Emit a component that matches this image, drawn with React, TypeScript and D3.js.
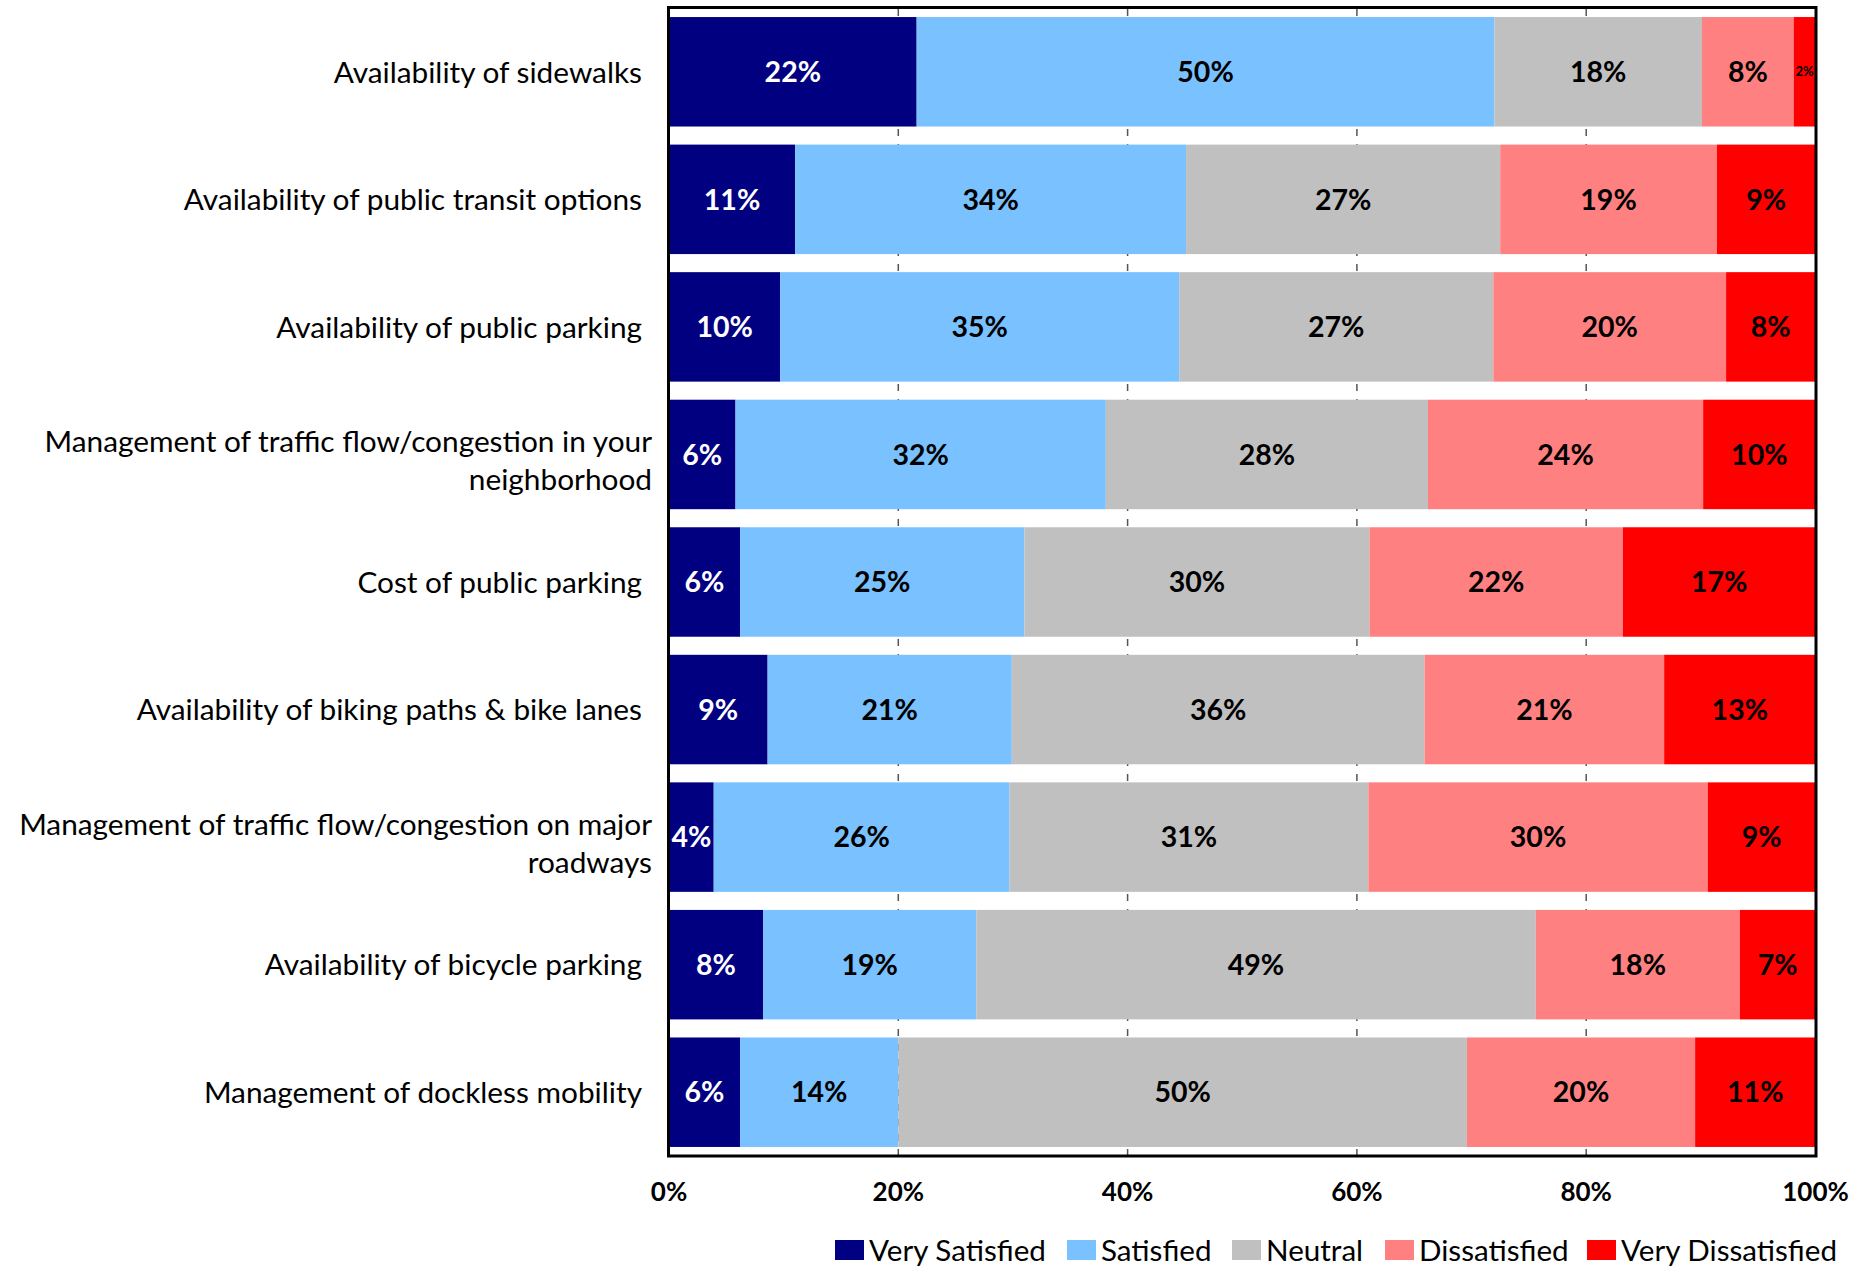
import React from "react";
import * as d3 from "d3";

const categories: string[][] = [
  ["Availability of sidewalks"],
  ["Availability of public transit options"],
  ["Availability of public parking"],
  ["Management of traffic flow/congestion in your", "neighborhood"],
  ["Cost of public parking"],
  ["Availability of biking paths & bike lanes"],
  ["Management of traffic flow/congestion on major", "roadways"],
  ["Availability of bicycle parking"],
  ["Management of dockless mobility"],
];

const seriesNames = ["Very Satisfied", "Satisfied", "Neutral", "Dissatisfied", "Very Dissatisfied"];
const seriesColors = ["#000080", "#79C1FF", "#C0C0C0", "#FF8080", "#FF0000"];
const labelColors = ["#FFFFFF", "#000000", "#000000", "#000000", "#000000"];

const verySatisfied = [21.6, 11.0, 9.7, 5.8, 6.2, 8.6, 3.9, 8.2, 6.2];
const satisfied = [50.4, 34.1, 34.8, 32.3, 24.8, 21.3, 25.8, 18.6, 13.8];
const neutral = [18.1, 27.4, 27.4, 28.1, 30.1, 36.0, 31.3, 48.8, 49.6];
const dissatisfied = [8.0, 18.9, 20.3, 24.0, 22.1, 20.9, 29.6, 17.8, 19.9];
const veryDissatisfied = [1.9, 8.6, 7.8, 9.8, 16.8, 13.2, 9.4, 6.6, 10.5];

const xTicks = [0, 20, 40, 60, 80, 100];

const W = 1872;
const H = 1266;
const FONT = "Lato, 'Open Sans', sans-serif";

export default function App() {
  const series = [verySatisfied, satisfied, neutral, dissatisfied, veryDissatisfied];
  const rows = categories.map((c, i) => {
    const obj: any = { key: String(i) };
    seriesNames.forEach((s, j) => (obj[s] = series[j][i]));
    return obj;
  });
  const stack = d3.stack<any>().keys(seriesNames)(rows);

  const x = d3.scaleLinear().domain([0, 100]).range([669, 1815.5]);
  const y = d3
    .scaleBand<string>()
    .domain(categories.map((_, i) => String(i)))
    .range([8, 1156])
    .paddingInner(0.1417)
    .paddingOuter(0.0709);

  const legendItems = [
    { swatch: 835, text: 869 },
    { swatch: 1067, text: 1101 },
    { swatch: 1232, text: 1266 },
    { swatch: 1385, text: 1419 },
    { swatch: 1587, text: 1621 },
  ];

  return (
    <svg
      width={W}
      height={H}
      style={{ position: "absolute", left: 0, top: 0, background: "#fff" }}
      fontFamily={FONT}
    >
      <rect x={0} y={0} width={W} height={H} fill="#fff" />
      {/* gridlines */}
      {xTicks
        .filter((t) => t > 0 && t < 100)
        .map((t) => (
          <line
            key={"g" + t}
            x1={x(t)}
            x2={x(t)}
            y1={9}
            y2={1155}
            stroke="#555"
            strokeWidth={1.5}
            strokeDasharray="7 8"
          />
        ))}
      {/* bars */}
      {stack.map((layer, j) => (
        <g key={seriesNames[j]}>
          {layer.map((d, i) => {
            const x0 = x(d[0]);
            const x1 = x(d[1]);
            const yy = y(String(i))!;
            const v = d[1] - d[0];
            const small = v < 3;
            return (
              <g key={i}>
                <rect x={x0} y={yy} width={x1 - x0} height={y.bandwidth()} fill={seriesColors[j]} />
                <text
                  x={(x0 + x1) / 2}
                  y={yy + y.bandwidth() / 2}
                  dy="0.36em"
                  textAnchor="middle"
                  fontWeight="bold"
                  fontSize={small ? 13 : 28.5}
                  fill={labelColors[j]}
                >
                  {Math.round(v) + "%"}
                </text>
              </g>
            );
          })}
        </g>
      ))}
      {/* border */}
      <rect x={668.5} y={7.5} width={1147.5} height={1148.5} fill="none" stroke="#000" strokeWidth={3} />
      {/* category labels */}
      {categories.map((lines, i) => {
        const two = lines.length > 1;
        const cy = y(String(i))! + y.bandwidth() / 2 + (two ? 6 : 0);
        const lh = 38;
        return (
          <text
            key={"c" + i}
            x={two ? 652 : 642}
            textAnchor="end"
            fontSize={29.8}
            fill="#000"
          >
            {lines.map((ln, k) => (
              <tspan key={k} x={two ? 652 : 642} y={cy + (k - (lines.length - 1) / 2) * lh} dy="0.36em">
                {ln}
              </tspan>
            ))}
          </text>
        );
      })}
      {/* x tick labels */}
      {xTicks.map((t) => (
        <text key={"t" + t} x={x(t)} y={1201} textAnchor="middle" fontWeight="bold" fontSize={26} fill="#000">
          {t + "%"}
        </text>
      ))}
      {/* legend */}
      {seriesNames.map((s, j) => (
        <g key={"l" + s}>
          <rect x={legendItems[j].swatch} y={1240} width={29} height={20} fill={seriesColors[j]} />
          <text x={legendItems[j].text} y={1261} fontSize={29.6} fill="#000">
            {s}
          </text>
        </g>
      ))}
    </svg>
  );
}
